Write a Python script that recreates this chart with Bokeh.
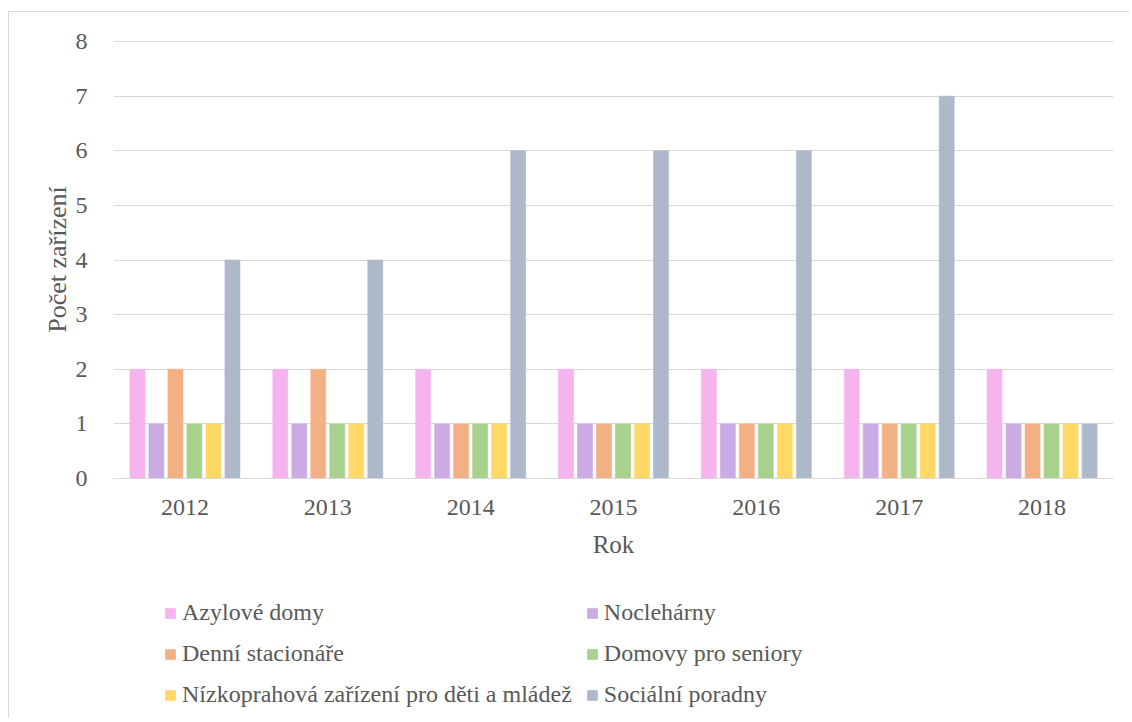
from bokeh.plotting import figure
from bokeh.layouts import column
from bokeh.models import ColumnDataSource, FactorRange, Legend, LegendItem, SingleIntervalTicker, Range1d
from bokeh.transform import dodge
from bokeh.embed import file_html
from bokeh.resources import INLINE

years = ["2012", "2013", "2014", "2015", "2016", "2017", "2018"]
series_names = ["Azylové domy", "Noclehárny", "Denní stacionáře", "Domovy pro seniory",
                "Nízkoprahová zařízení pro děti a mládež", "Sociální poradny"]
azylove = [2, 2, 2, 2, 2, 2, 2]
noclehárny = [1, 1, 1, 1, 1, 1, 1]
denni = [2, 2, 1, 1, 1, 1, 1]
domovy = [1, 1, 1, 1, 1, 1, 1]
nizkoprah = [1, 1, 1, 1, 1, 1, 1]
poradny = [4, 4, 6, 6, 6, 7, 1]
colors = ["#F6B4EF", "#CAABE4", "#F3B084", "#A9D18E", "#FFD866", "#ADB9CA"]

values = [azylove, noclehárny, denni, domovy, nizkoprah, poradny]
keys = ["s0", "s1", "s2", "s3", "s4", "s5"]
data = {"year": years}
for k, v in zip(keys, values):
    data[k] = v
src = ColumnDataSource(data)

FONT = "Liberation Serif"
TXT = "#595959"
p = figure(x_range=FactorRange(*years), y_range=Range1d(0, 8.02), width=1120, height=566,
           output_backend="svg", toolbar_location=None,
           min_border_left=104, min_border_right=16, min_border_top=28, min_border_bottom=100)
p.outline_line_color = None
p.x_range.range_padding = 0
p.x_range.group_padding = 0

step = 0.133
width = 0.105
renderers = []
for i, (k, c) in enumerate(zip(keys, colors)):
    r = p.vbar(x=dodge("year", (i - 2.5) * step, range=p.x_range), top=k, width=width,
               source=src, fill_color=c, line_color=c, line_alpha=0.6, line_width=1)
    renderers.append(r)

p.yaxis.ticker = SingleIntervalTicker(interval=1)
p.ygrid.grid_line_color = "#D9D9D9"
p.ygrid.grid_line_width = 1
p.xgrid.grid_line_color = None
p.yaxis.axis_line_color = None
p.yaxis.major_tick_line_color = None
p.yaxis.minor_tick_line_color = None
p.xaxis.axis_line_color = "#D9D9D9"
p.xaxis.major_tick_line_color = None
p.xaxis.minor_tick_line_color = None
for ax in (p.xaxis, p.yaxis):
    ax.major_label_text_font = FONT
    ax.major_label_text_font_size = "24px"
    ax.major_label_text_color = TXT
    ax.axis_label_text_font = FONT
    ax.axis_label_text_font_size = "25px"
    ax.axis_label_text_color = TXT
    ax.axis_label_text_font_style = "normal"
p.yaxis.axis_label_text_font_size = "26px"
p.xaxis.axis_label = "Rok"
p.yaxis.axis_label = "Počet zařízení"
p.yaxis.major_label_standoff = 20
p.xaxis.major_label_standoff = 15
p.xaxis.axis_label_standoff = 13
p.yaxis.axis_label_standoff = 1

# legend figure below the chart (its bars lie outside its visible y range)
p2 = figure(width=1120, height=140, output_backend="svg", toolbar_location=None,
            x_range=FactorRange(*years), y_range=Range1d(100, 101),
            min_border_left=0, min_border_right=0, min_border_top=0, min_border_bottom=0)
p2.axis.visible = False
p2.grid.visible = False
p2.outline_line_color = None
leg_renderers = []
for k, c in zip(keys, colors):
    leg_renderers.append(p2.vbar(x="year", top=k, width=0.1, source=src,
                                 fill_color=c, line_color=c))

order = [0, 2, 4, 1, 3, 5]
items = [LegendItem(label=series_names[i], renderers=[leg_renderers[i]]) for i in order]
legend = Legend(items=items, location=(51, 10), ncols=2, orientation="vertical",
                label_text_font=FONT, label_text_font_size="24px", label_text_color=TXT,
                glyph_width=12, glyph_height=12, label_standoff=6, label_width=388,
                spacing=14, padding=0, margin=0, border_line_color=None,
                background_fill_alpha=0)
p2.add_layout(legend, "center")

layout = column(p, p2, spacing=0)
layout.styles = {"border-top": "1px solid #D9D9D9", "border-left": "1px solid #D9D9D9",
                 "margin-left": "8px", "margin-top": "11px"}

open("out.html", "w").write(file_html(layout, INLINE))
